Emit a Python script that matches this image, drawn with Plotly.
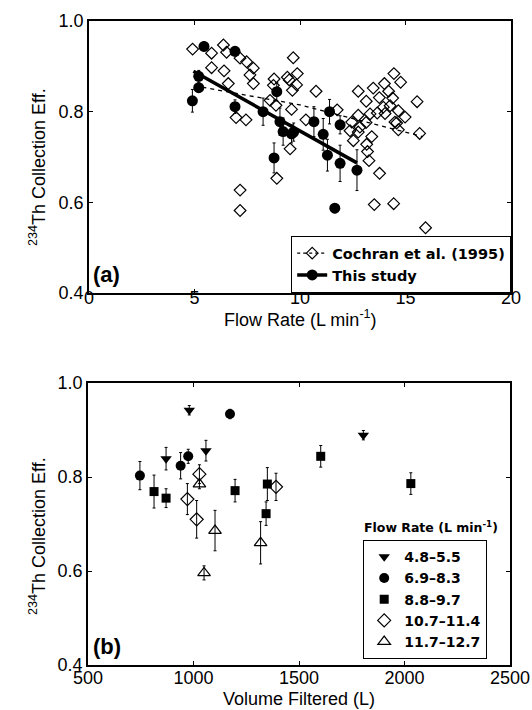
import plotly.graph_objects as go

# ---------------- Panel (a) data ----------------
cochran_x = [4.91, 5.81, 6.37, 6.52, 5.81, 6.4, 6.6, 7.16, 7.47, 7.79, 7.63, 7.79, 6.97, 7.44,
             7.16, 7.16, 8.77, 8.74, 8.86, 8.58, 9.53, 8.9, 9.68, 9.87, 9.49, 9.84, 9.64, 9.6,
             10.28, 10.76, 11.76, 12.76, 13.14, 13.47, 13.76, 14.0, 14.2, 14.45, 14.77, 14.39,
             14.27, 14.66, 14.98, 14.58, 14.66, 15.55, 15.67, 12.76, 12.45, 12.84, 12.76, 12.53,
             13.4, 13.16, 13.2, 13.27, 13.77, 13.52, 14.44, 15.95, 13.32, 13.66, 13.13, 14.03,
             14.5, 9.4, 12.37, 13.95]
cochran_y = [0.938, 0.929, 0.947, 0.931, 0.897, 0.89, 0.862, 0.918, 0.91, 0.896, 0.881, 0.862,
             0.787, 0.782, 0.627, 0.582, 0.872, 0.858, 0.814, 0.825, 0.718, 0.653, 0.919, 0.884,
             0.87, 0.859, 0.847, 0.805, 0.782, 0.845, 0.804, 0.845, 0.823, 0.852, 0.831, 0.862,
             0.845, 0.884, 0.865, 0.83, 0.813, 0.802, 0.788, 0.775, 0.76, 0.822, 0.752, 0.792,
             0.777, 0.766, 0.755, 0.736, 0.745, 0.728, 0.712, 0.692, 0.664, 0.595, 0.597, 0.544,
             0.795, 0.797, 0.776, 0.796, 0.777, 0.876, 0.758, 0.81]
cochran_fit_x = [5.0, 10.0, 15.8]
cochran_fit_y = [0.857, 0.815, 0.745]

study_x = [4.9, 5.2, 5.2, 5.45, 6.92, 6.92, 8.25, 8.77, 8.9, 9.05, 9.2, 9.6, 9.7, 10.66,
           11.1, 11.3, 11.4, 11.65, 11.9, 11.9, 12.7]
study_y = [0.824, 0.878, 0.853, 0.944, 0.933, 0.811, 0.800, 0.698, 0.844, 0.778, 0.756, 0.751,
           0.755, 0.778, 0.750, 0.704, 0.800, 0.587, 0.771, 0.686, 0.671]
study_err = [0.025, 0.013, 0.01, 0.01, 0.01, 0.015, 0.03, 0.033, 0.02, 0.03, 0.03, 0.02, 0.02,
             0.033, 0.035, 0.035, 0.027, 0.01, 0.02, 0.04, 0.045]
study_fit_x = [4.95, 12.7]
study_fit_y = [0.889, 0.687]

# ---------------- Panel (b) data ----------------
groups = ["4.8\u20135.5", "6.9\u20138.3", "8.8\u20139.7", "10.7\u201311.4", "11.7\u201312.7"]
g1_vol = [980, 870, 1059, 1805]
g1_eff = [0.942, 0.839, 0.856, 0.889]
g1_err = [0.01, 0.024, 0.022, 0.01]
g2_vol = [1173, 975, 939, 746]
g2_eff = [0.934, 0.844, 0.824, 0.803]
g2_err = [0.01, 0.015, 0.028, 0.03]
g3_vol = [813, 870, 1197, 1350, 1344, 1603, 2030]
g3_eff = [0.769, 0.755, 0.771, 0.785, 0.722, 0.844, 0.786]
g3_err = [0.035, 0.02, 0.024, 0.035, 0.025, 0.023, 0.023]
g4_vol = [1028, 971, 1015, 1391]
g4_eff = [0.806, 0.753, 0.71, 0.779]
g4_err = [0.02, 0.033, 0.04, 0.029]
g5_vol = [1028, 1102, 1050, 1318]
g5_eff = [0.785, 0.686, 0.596, 0.66]
g5_err = [0.01, 0.043, 0.015, 0.045]

flow_ticks = [0, 5, 10, 15, 20]
vol_ticks = [500, 1000, 1500, 2000, 2500]
eff_ticks = [0.4, 0.6, 0.8, 1.0]
eff_labels = ["0.4", "0.6", "0.8", "1.0"]

FONT = "Liberation Sans, Arial, Helvetica, sans-serif"
BFONT = "DejaVu Sans, Liberation Sans, Arial, sans-serif"
W, H = 532, 710

fig = go.Figure()

# Panel (a)
fig.add_trace(go.Scatter(x=cochran_fit_x, y=cochran_fit_y, mode="lines",
                         line=dict(color="black", width=1.3, dash="4px,4px"),
                         showlegend=False, xaxis="x3", yaxis="y"))
fig.add_trace(go.Scatter(x=cochran_x, y=cochran_y, mode="markers",
                         marker=dict(symbol="diamond-open", size=9, color="black",
                                     line=dict(width=1.2)),
                         showlegend=False, xaxis="x", yaxis="y"))
fig.add_trace(go.Scatter(x=study_fit_x, y=study_fit_y, mode="lines",
                         line=dict(color="black", width=3.5),
                         showlegend=False, xaxis="x", yaxis="y"))
fig.add_trace(go.Scatter(x=study_x, y=study_y, mode="markers",
                         error_y=dict(type="data", array=study_err, color="black",
                                      thickness=1, width=1.5),
                         marker=dict(symbol="circle", size=11, color="black"),
                         showlegend=False, xaxis="x", yaxis="y"))
# legend entries for panel (a)
fig.add_trace(go.Scatter(x=[None], y=[None], mode="lines+markers",
                         name="<b>Cochran et al. (1995)</b>",
                         line=dict(color="black", width=1.3, dash="3px,3px"),
                         marker=dict(symbol="diamond-open", size=9, color="black",
                                     line=dict(width=1.2)),
                         legend="legend", xaxis="x", yaxis="y"))
fig.add_trace(go.Scatter(x=[None], y=[None], mode="lines+markers",
                         name="<b>This study</b>",
                         line=dict(color="black", width=3.5),
                         marker=dict(symbol="circle", size=11, color="black"),
                         legend="legend", xaxis="x", yaxis="y"))

# Panel (b)
styles = [
    dict(symbol="triangle-down", size=10, color="black"),
    dict(symbol="circle", size=10, color="black"),
    dict(symbol="square", size=9, color="black"),
    dict(symbol="diamond-open", size=10, color="black", line=dict(width=1.2)),
    dict(symbol="triangle-up-open", size=11, color="black", line=dict(width=1.2)),
]
vols = [g1_vol, g2_vol, g3_vol, g4_vol, g5_vol]
effs = [g1_eff, g2_eff, g3_eff, g4_eff, g5_eff]
errs = [g1_err, g2_err, g3_err, g4_err, g5_err]
b_xaxes = ["x4", "x2", "x2", "x2", "x2"]
for name, v, e, er, st, xa in zip(groups, vols, effs, errs, styles, b_xaxes):
    fig.add_trace(go.Scatter(x=v, y=e, mode="markers", name="<b>" + name + "</b>",
                             error_y=dict(type="data", array=er, color="black",
                                          thickness=1, width=1.5),
                             marker=st, legend="legend2", xaxis=xa, yaxis="y2"))

ax_common = dict(showline=True, linecolor="black", linewidth=1.5, mirror="ticks",
                 ticks="inside", ticklen=4, tickwidth=1, tickcolor="black",
                 showgrid=False, zeroline=False, automargin=False,
                 tickfont=dict(family=FONT, size=18, color="black"))
label_axis = dict(anchor="free", side="bottom", showline=False, ticks="", showgrid=False,
                  zeroline=False, automargin=False,
                  tickfont=dict(family=FONT, size=18, color="black"))

def px_x(p):
    return p / W

def px_y(p):
    return 1 - p / H

def label(text, x, y, size=18, angle=0, family=FONT, xanchor="center", yanchor="middle"):
    return dict(text=text, x=px_x(x), y=px_y(y), xref="paper", yref="paper",
                xanchor=xanchor, yanchor=yanchor, showarrow=False, textangle=angle,
                font=dict(family=family, size=size, color="black"))

ytitle = "<sup>234</sup>Th Collection Eff."
fig.update_layout(
    width=W, height=H,
    margin=dict(l=0, r=0, t=0, b=0),
    paper_bgcolor="white", plot_bgcolor="white",
    font=dict(family=FONT, color="black"),
    xaxis=dict(domain=[px_x(89), px_x(511)], range=[0, 20], tickvals=flow_ticks,
               showticklabels=False, anchor="y", **ax_common),
    # tick labels of the x axes, drawn a little closer to the frame
    xaxis3=dict(overlaying="x", matches="x", position=px_y(285), range=[0, 20],
                tickvals=flow_ticks, **label_axis),
    yaxis=dict(domain=[px_y(293), px_y(21)], range=[0.4, 1.0],
               tickvals=eff_ticks, ticktext=eff_labels, anchor="x", **ax_common),
    xaxis2=dict(domain=[px_x(88), px_x(510)], range=[500, 2500],
                tickvals=vol_ticks, showticklabels=False, anchor="y2", **ax_common),
    xaxis4=dict(overlaying="x2", matches="x2", position=px_y(665), range=[500, 2500],
                tickvals=vol_ticks, **label_axis),
    yaxis2=dict(domain=[px_y(665), px_y(383)], range=[0.4, 1.0],
                tickvals=eff_ticks, ticktext=eff_labels, anchor="x2", **ax_common),
    legend=dict(x=px_x(511), y=px_y(293), xanchor="right", yanchor="bottom",
                bgcolor="white", bordercolor="black", borderwidth=1.2,
                font=dict(family=BFONT, size=14.5, color="black"),
                tracegroupgap=0, itemwidth=30),
    legend2=dict(x=px_x(363), y=px_y(540), xanchor="left", yanchor="top",
                 bgcolor="white", bordercolor="black", borderwidth=1.2,
                 font=dict(family=BFONT, size=14, color="black"),
                 tracegroupgap=0, itemwidth=30),
    annotations=[
        label(ytitle, 37, 167, angle=-90),
        label(ytitle, 37, 536, angle=-90),
        label("Flow Rate (L min<sup>-1</sup>)", 300, 318),
        label("Volume Filtered (L)", 299, 699),
        label("<b>(a)</b>", 91, 289, size=22, xanchor="left", yanchor="bottom"),
        label("<b>(b)</b>", 91, 661, size=22, xanchor="left", yanchor="bottom"),
        label("<b>Flow Rate (L min<sup>-1</sup>)</b>", 431, 527, size=12.5, family=BFONT),
    ],
)

fig.write_html("out.html")
